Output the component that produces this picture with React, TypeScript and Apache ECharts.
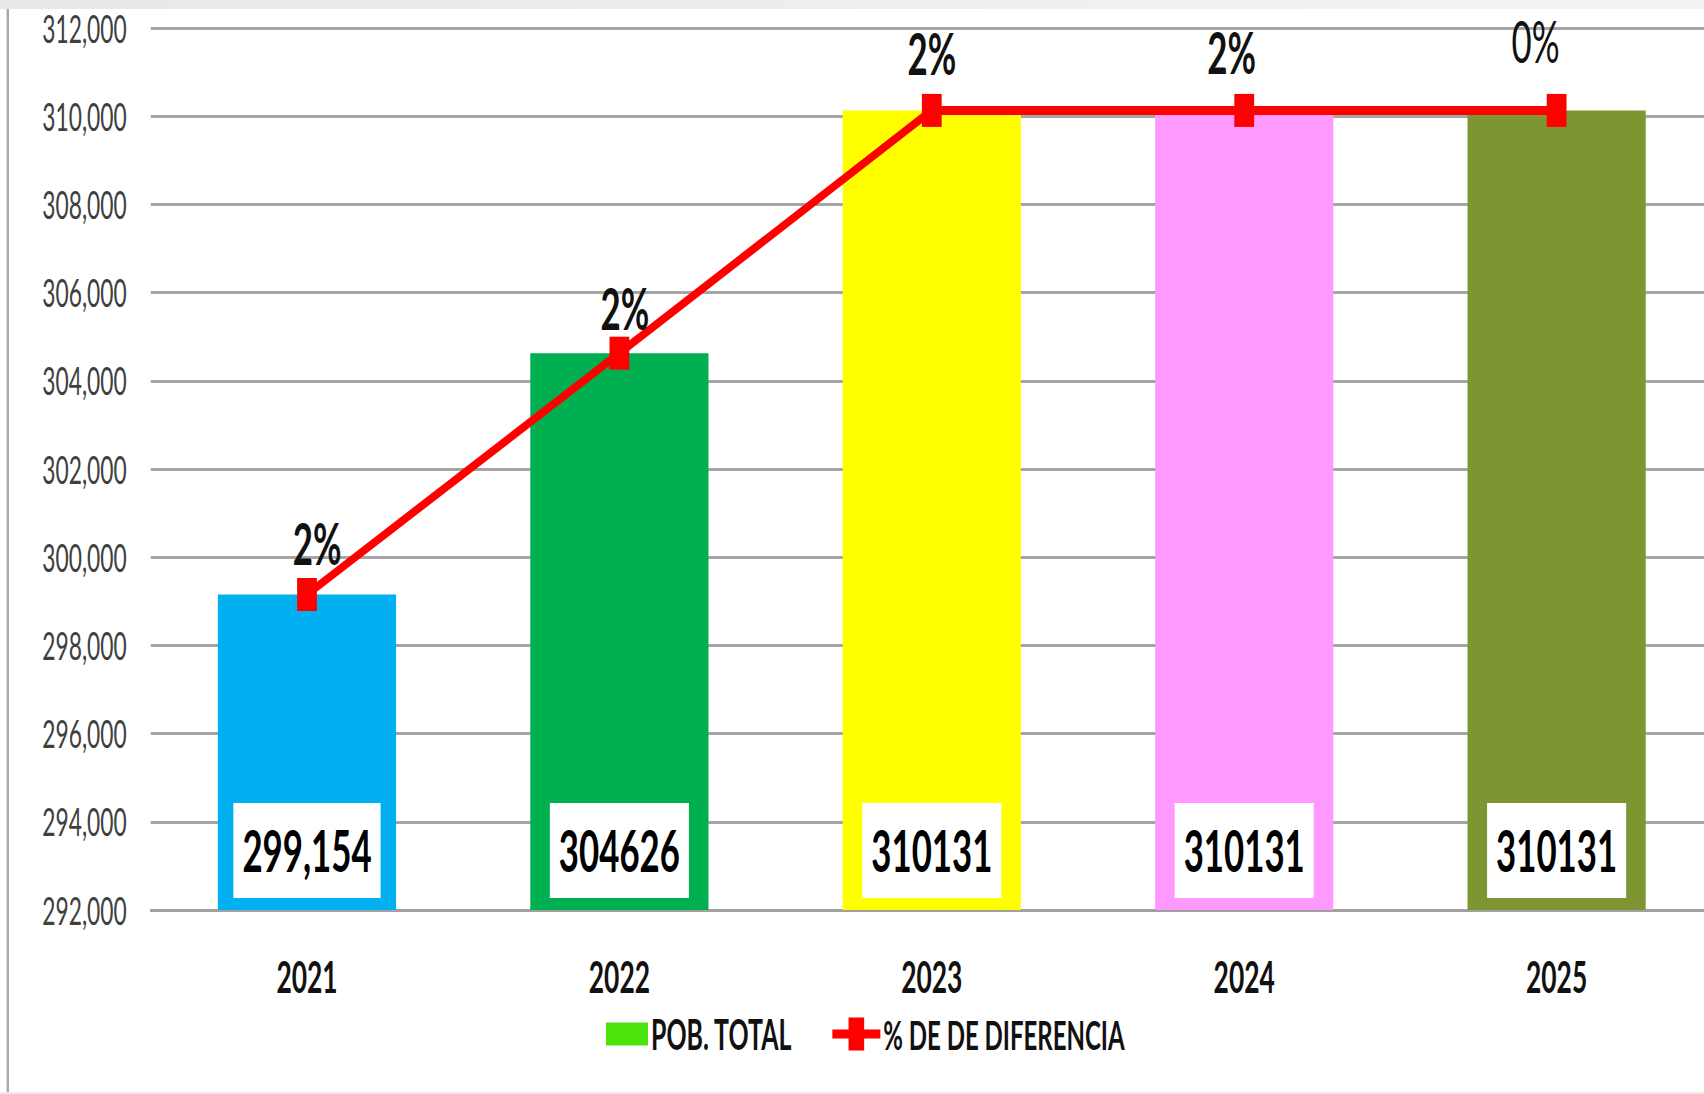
import React, { useEffect, useRef } from "react";
import * as echarts from "echarts";

const categories = ["2021", "2022", "2023", "2024", "2025"];
const population = [299154, 304626, 310131, 310131, 310131];
const valueLabels = ["299,154", "304626", "310131", "310131", "310131"];
const pctDiff = [2, 2, 2, 2, 0];
const barColors = ["#00B0F0", "#00B050", "#FFFF00", "#FF99FF", "#7E9632"];
const yMin = 292000;
const yMax = 312000;
const yStep = 2000;

// layout nudges of the percentage labels (as placed in the original)
const pctLabelNudge: [number, number][] = [
  [17, 4],
  [9, 10],
  [0, -2],
  [-21, -3],
  [-35, -14],
];

const SX = 0.6; // the picture is squeezed horizontally
const W = 1704;
const H = 1094;
const IW = W / SX;
const CW = 2900; // chart canvas is a bit wider than the visible area; plot runs off the right edge
const FONT = "Lato, 'Open Sans', sans-serif";

export default function App() {
  const ref = useRef<HTMLDivElement>(null);
  useEffect(() => {
    if (!ref.current) return;
    const chart = echarts.init(ref.current, null, { renderer: "svg" });
    chart.setOption({
      animation: false,
      backgroundColor: "#ffffff",
      graphic: [
        {
          type: "rect",
          shape: { x: 0, y: 0, width: CW, height: 9 },
          style: {
            fill: new echarts.graphic.LinearGradient(0, 0, 1, 0, [
              { offset: 0, color: "#e8e8e8" },
              { offset: 1, color: "#f4f4f4" },
            ]),
          },
          silent: true,
        },
        {
          type: "rect",
          shape: { x: 11, y: 9, width: 4, height: H - 9 },
          style: { fill: "#a8a8a8" },
          silent: true,
        },
        {
          type: "rect",
          shape: { x: 0, y: H - 2, width: CW, height: 2 },
          style: { fill: "#ececec" },
          silent: true,
        },
      ],
      grid: { left: 251.3, right: CW - 2854.7, top: 28, bottom: 184, containLabel: false },
      legend: {
        left: 995,
        top: 1008,
        itemWidth: 80,
        itemHeight: 33,
        itemGap: 67,
        textStyle: { fontFamily: FONT, fontSize: 40, fontWeight: "bold", color: "#111" },
        data: [
          {
            name: "POB. TOTAL",
            icon: "path://M80,0L80,0M10,5H80V28H10ZM0,33L0,33",
            textStyle: { fontSize: 41.5 },
          },
          { name: "% DE DE DIFERENCIA", icon: "path://M0,12H27V0H53V12H80V21H53V33H27V21H0Z" },
        ],
      },
      xAxis: {
        type: "category",
        data: categories,
        axisTick: { show: false },
        axisLine: { lineStyle: { color: "#a0a0a0", width: 3 } },
        axisLabel: { fontFamily: FONT, fontSize: 44, fontWeight: "bold", color: "#111", margin: 44 },
      },
      yAxis: {
        type: "value",
        min: yMin,
        max: yMax,
        interval: yStep,
        axisLine: { show: false },
        axisTick: { show: false },
        splitLine: { lineStyle: { color: "#a5a5a5", width: 3 } },
        axisLabel: {
          fontFamily: FONT,
          fontSize: 38,
          color: "#404040",
          margin: 40,
          formatter: (v: number) => v.toLocaleString("en-US"),
        },
      },
      series: [
        {
          name: "POB. TOTAL",
          type: "bar",
          barWidth: 297,
          itemStyle: { color: "#4CE30C" },
          data: population.map((v, i) => ({ value: v, itemStyle: { color: barColors[i] } })),
          label: {
            show: true,
            position: "insideBottom",
            distance: 12,
            formatter: (p: any) => valueLabels[p.dataIndex],
            fontFamily: FONT,
            fontSize: 58,
            lineHeight: 58,
            fontWeight: "bold",
            color: "#000",
            backgroundColor: "#ffffff",
            padding: [18, 15, 19, 15],
          },
          z: 2,
        },
        {
          name: "% DE DE DIFERENCIA",
          type: "line",
          data: population.map((v, i) => ({
            value: v,
            label: {
              fontWeight: pctDiff[i] === 0 ? "normal" : "bold",
              offset: pctLabelNudge[i],
            },
          })),
          symbol: "rect",
          symbolSize: [33, 33],
          lineStyle: { color: "#FF0000", width: 9 },
          itemStyle: { color: "#FF0000" },
          label: {
            show: true,
            position: "top",
            distance: 10,
            formatter: (p: any) => pctDiff[p.dataIndex] + "%",
            fontFamily: FONT,
            fontSize: 58,
            color: "#111",
          },
          z: 5,
        },
      ],
    });
    return () => chart.dispose();
  }, []);

  return (
    <div
      style={{
        position: "absolute",
        left: 0,
        top: 0,
        width: W,
        height: H,
        overflow: "hidden",
        background: "#fff",
      }}
    >
      <div
        ref={ref}
        style={{
          width: CW,
          height: H,
          transform: `scaleX(${SX})`,
          transformOrigin: "0 0",
        }}
      />
    </div>
  );
}
